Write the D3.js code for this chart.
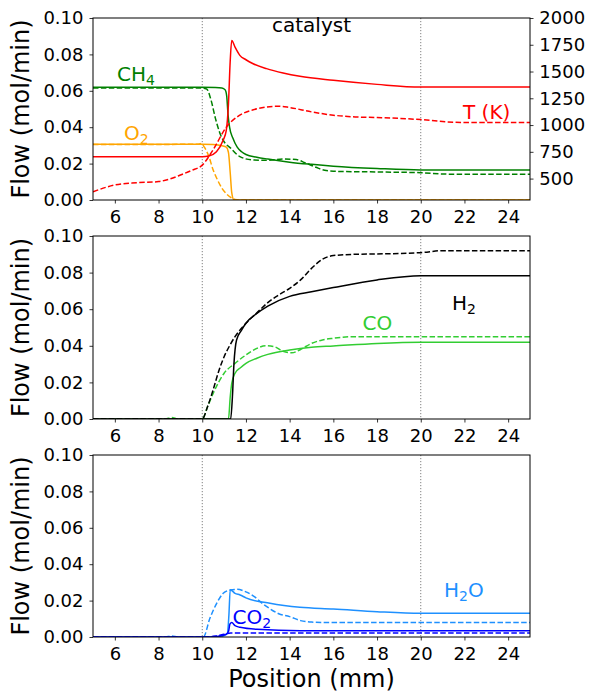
<!DOCTYPE html>
<html><head><meta charset="utf-8">
<script src="https://cdn.jsdelivr.net/npm/d3@7"></script>
<style>body{margin:0;background:#fff}svg{display:block}text{font-family:"DejaVu Sans",sans-serif}</style>
</head><body><svg id="c" width="590" height="691"></svg>
<script>
// ---------- tick labels ----------
const xTicks = [6, 8, 10, 12, 14, 16, 18, 20, 22, 24];
const yTicks = [0, 0.02, 0.04, 0.06, 0.08, 0.10];
const tTicks = [500, 750, 1000, 1250, 1500, 1750, 2000];
const catalystBounds = [10, 20];

// ---------- top panel: CH4, O2, T ----------
const ch4SolidX = [5, 10, 10.6, 10.9, 11.05, 11.12, 11.18, 11.25, 11.4, 11.6, 11.8, 12, 12.5, 13, 14, 15, 16, 18, 20, 25];
const ch4SolidY = [0.0619, 0.0619, 0.0618, 0.0616, 0.0605, 0.057, 0.047, 0.040, 0.034, 0.029, 0.0265, 0.025, 0.0235, 0.0225, 0.0208, 0.0196, 0.0186, 0.0173, 0.0165, 0.0165];
const ch4DashX = [5, 9.9, 10.2, 10.4, 10.6, 10.8, 11.0, 11.3, 11.7, 12.3, 13.0, 13.7, 14.3, 14.7, 15.2, 15.6, 16, 18, 20, 21, 22, 25];
const ch4DashY = [0.0615, 0.0615, 0.061, 0.055, 0.045, 0.037, 0.032, 0.0285, 0.024, 0.022, 0.0218, 0.0225, 0.0222, 0.0205, 0.018, 0.0163, 0.0158, 0.0154, 0.0150, 0.0143, 0.0141, 0.0141];
const o2SolidX = [5, 10, 10.5, 10.9, 11.1, 11.2, 11.28, 11.35, 11.45, 25];
const o2SolidY = [0.0307, 0.0307, 0.0305, 0.0298, 0.029, 0.026, 0.015, 0.004, 0, 0];
const o2DashX = [5, 9.8, 9.95, 10.1, 10.3, 10.5, 10.7, 10.9, 11.1, 11.3, 11.5, 11.7, 25];
const o2DashY = [0.0305, 0.0306, 0.031, 0.029, 0.024, 0.0165, 0.011, 0.0065, 0.0035, 0.0015, 0.0003, 0, 0];
const tSolidX = [5, 10.0, 10.3, 10.65, 10.96, 11.1, 11.2, 11.28, 11.35, 11.5, 11.72, 12.0, 12.33, 12.94, 13.7, 14.47, 16, 18, 20, 25];
const tSolidY = [703, 703, 710, 750, 860, 950, 1200, 1600, 1790, 1728, 1651, 1610, 1573, 1527, 1486, 1455, 1418, 1380, 1355, 1355];
const tDashX = [5, 6, 7, 8, 8.5, 9, 9.5, 10, 10.5, 11.1, 11.7, 12.3, 12.94, 13.5, 14, 15, 16, 17, 18, 20, 21, 22, 25];
const tDashY = [377, 440, 461, 472, 495, 533, 575, 626, 770, 980, 1090, 1140, 1169, 1176, 1164, 1123, 1092, 1076, 1070, 1051, 1033, 1023, 1023];

// ---------- middle panel: H2, CO ----------
const h2SolidX = [5, 11.3, 11.38, 11.45, 11.57, 11.8, 12, 12.5, 13, 14, 15, 16, 18, 20, 25];
const h2SolidY = [0, 0, 0.012, 0.03, 0.0432, 0.0486, 0.0523, 0.0577, 0.0617, 0.067, 0.0695, 0.0718, 0.076, 0.0783, 0.0783];
const h2DashX = [5, 10.0, 10.25, 10.5, 10.75, 11, 11.25, 11.5, 12, 12.5, 13, 13.5, 14, 14.5, 15, 15.5, 16, 17, 18, 20, 21, 25];
const h2DashY = [0, 0, 0.007, 0.016, 0.026, 0.034, 0.040, 0.045, 0.0523, 0.058, 0.0636, 0.0678, 0.0714, 0.076, 0.0823, 0.0873, 0.0893, 0.090, 0.0902, 0.0909, 0.092, 0.092];
const coSolidX = [5, 11.2, 11.28, 11.35, 11.5, 11.75, 12, 12.5, 13, 14, 15, 16, 18, 20, 25];
const coSolidY = [0, 0, 0.012, 0.0195, 0.025, 0.028, 0.0304, 0.0332, 0.0353, 0.0377, 0.0392, 0.0399, 0.0413, 0.042, 0.042];
const coDashX = [5, 8.3, 8.6, 8.9, 10.0, 10.25, 10.5, 11, 11.5, 12, 12.5, 12.9, 13.3, 13.7, 14.1, 14.5, 15, 15.5, 16, 17, 25];
const coDashY = [0, 0, 0.0008, 0, 0, 0.007, 0.014, 0.025, 0.0304, 0.035, 0.0386, 0.040, 0.0395, 0.037, 0.0362, 0.038, 0.0413, 0.0432, 0.0441, 0.045, 0.045];

// ---------- bottom panel: H2O, CO2 ----------
const h2oSolidX = [5, 10.7, 11.0, 11.15, 11.22, 11.28, 11.5, 11.73, 12, 13.1, 14.47, 16, 18, 20, 25];
const h2oSolidY = [0, 0, 0.0008, 0.002, 0.012, 0.0260, 0.0240, 0.0231, 0.0215, 0.0185, 0.0163, 0.0154, 0.0139, 0.013, 0.013];
const h2oDashX = [5, 8.3, 8.6, 8.9, 10.05, 10.35, 10.66, 10.96, 11.27, 11.6, 12.0, 12.4, 12.8, 13.1, 13.5, 14, 14.5, 15, 16, 25];
const h2oDashY = [0, 0, 0.0005, 0, 0, 0.0103, 0.0185, 0.024, 0.0258, 0.0262, 0.0248, 0.022, 0.018, 0.0155, 0.0128, 0.0112, 0.009, 0.0082, 0.0079, 0.0079];
const co2SolidX = [5, 10.5, 10.9, 11.1, 11.2, 11.27, 11.35, 11.5, 11.73, 12.5, 14.5, 16, 20, 25];
const co2SolidY = [0, 0, 0.0008, 0.0015, 0.003, 0.0072, 0.0079, 0.0062, 0.0053, 0.0042, 0.0035, 0.0035, 0.0034, 0.0034];
const co2DashX = [5, 10.2, 10.6, 11.0, 11.3, 25];
const co2DashY = [0, 0, 0.0005, 0.0015, 0.0022, 0.0022];

// ---------- drawing ----------
const svg = d3.select('#c');
const X0 = 93, X1 = 530;
const panels = [[18, 200], [236, 419], [455, 637]];
const x = d3.scaleLinear().domain([5, 25]).range([X0, X1]);
const DASH = '5.5,2.4';

function zip(xs, ys) { return xs.map((v, i) => [v, ys[i]]); }

function makePanel(idx) {
  const [top, bot] = panels[idx];
  const y = d3.scaleLinear().domain([0, 0.1]).range([bot, top]);
  const g = svg.append('g');
  const cid = 'clip' + idx;
  svg.append('clipPath').attr('id', cid).append('rect')
    .attr('x', X0).attr('y', top).attr('width', X1 - X0).attr('height', bot - top);
  // catalyst boundaries
  g.selectAll('line.cat').data(catalystBounds).enter().append('line')
    .attr('x1', d => x(d)).attr('x2', d => x(d)).attr('y1', top).attr('y2', bot)
    .attr('stroke', '#808080').attr('stroke-width', 1).attr('stroke-dasharray', '1.2,1.8');
  const lines = g.append('g').attr('clip-path', `url(#${cid})`);
  return { y, g, lines, top, bot };
}

function drawLine(layer, xs, ys, yScale, color, dashed) {
  const line = d3.line().x(d => x(d[0])).y(d => yScale(d[1])).curve(d3.curveMonotoneX);
  layer.append('path').datum(zip(xs, ys)).attr('d', line)
    .attr('fill', 'none').attr('stroke', color).attr('stroke-width', 1.5)
    .attr('stroke-dasharray', dashed ? DASH : null);
}

function frame(p, withRight, tScale) {
  const ax = p.g.append('g').attr('transform', `translate(0,${p.bot})`)
    .call(d3.axisBottom(x).tickValues(xTicks).tickSize(3.5).tickPadding(6.3).tickFormat(d3.format('d')));
  const ay = p.g.append('g').attr('transform', `translate(${X0},0)`)
    .call(d3.axisLeft(p.y).tickValues(yTicks).tickSize(3.5).tickPadding(6).tickFormat(d3.format('.2f')));
  const axes = [ax, ay];
  if (withRight) {
    const ar = p.g.append('g').attr('transform', `translate(${X1},0)`)
      .call(d3.axisRight(tScale).tickValues(tTicks).tickSize(3.5).tickPadding(5.8).tickFormat(d3.format('d')));
    axes.push(ar);
  }
  axes.forEach(a => {
    a.select('.domain').remove();
    a.selectAll('text').attr('font-size', 18).attr('font-family', '"DejaVu Sans", sans-serif').attr('fill', '#000');
    a.selectAll('line').attr('stroke', '#000').attr('stroke-width', 0.8);
  });
  p.g.append('rect').attr('x', X0).attr('y', p.top).attr('width', X1 - X0).attr('height', p.bot - p.top)
    .attr('fill', 'none').attr('stroke', '#000').attr('stroke-width', 1);
  p.g.append('text').attr('transform', `translate(29,${(p.top + p.bot) / 2}) rotate(-90)`)
    .attr('text-anchor', 'middle').attr('font-size', 24).text('Flow (mol/min)');
}

function label(p, px, py, main, sub, tail, color) {
  const t = p.g.append('text').attr('x', px).attr('y', py).attr('font-size', 20).attr('fill', color);
  t.append('tspan').text(main);
  if (sub) {
    t.append('tspan').attr('font-size', 14).attr('dy', 4).text(sub);
    if (tail) t.append('tspan').attr('dy', -4).text(tail);
  }
}

// top
const p0 = makePanel(0);
const tScale = d3.scaleLinear().domain([300, 2000]).range([p0.bot, p0.top]);
drawLine(p0.lines, ch4SolidX, ch4SolidY, p0.y, 'green', false);
drawLine(p0.lines, ch4DashX, ch4DashY, p0.y, 'green', true);
drawLine(p0.lines, o2SolidX, o2SolidY, p0.y, 'orange', false);
drawLine(p0.lines, o2DashX, o2DashY, p0.y, 'orange', true);
drawLine(p0.lines, tSolidX, tSolidY, tScale, 'red', false);
drawLine(p0.lines, tDashX, tDashY, tScale, 'red', true);
frame(p0, true, tScale);
label(p0, 272, 31.5, 'catalyst', null, null, '#000');
label(p0, 117, 81, 'CH', '4', null, 'green');
label(p0, 124, 140, 'O', '2', null, 'orange');
label(p0, 463, 118.5, 'T (K)', null, null, 'red');

// middle
const p1 = makePanel(1);
drawLine(p1.lines, coSolidX, coSolidY, p1.y, 'limegreen', false);
drawLine(p1.lines, coDashX, coDashY, p1.y, 'limegreen', true);
drawLine(p1.lines, h2SolidX, h2SolidY, p1.y, 'black', false);
drawLine(p1.lines, h2DashX, h2DashY, p1.y, 'black', true);
frame(p1, false);
label(p1, 452, 309.5, 'H', '2', null, '#000');
label(p1, 362.5, 330, 'CO', null, null, 'limegreen');

// bottom
const p2 = makePanel(2);
drawLine(p2.lines, h2oSolidX, h2oSolidY, p2.y, 'dodgerblue', false);
drawLine(p2.lines, h2oDashX, h2oDashY, p2.y, 'dodgerblue', true);
drawLine(p2.lines, co2SolidX, co2SolidY, p2.y, 'blue', false);
drawLine(p2.lines, co2DashX, co2DashY, p2.y, 'blue', true);
frame(p2, false);
label(p2, 444, 596.5, 'H', '2', 'O', 'dodgerblue');
label(p2, 232.5, 623.5, 'CO', '2', null, 'blue');

svg.append('text').attr('x', (X0 + X1) / 2).attr('y', 686.5).attr('text-anchor', 'middle')
  .attr('font-size', 24).text('Position (mm)');
</script></body></html>
